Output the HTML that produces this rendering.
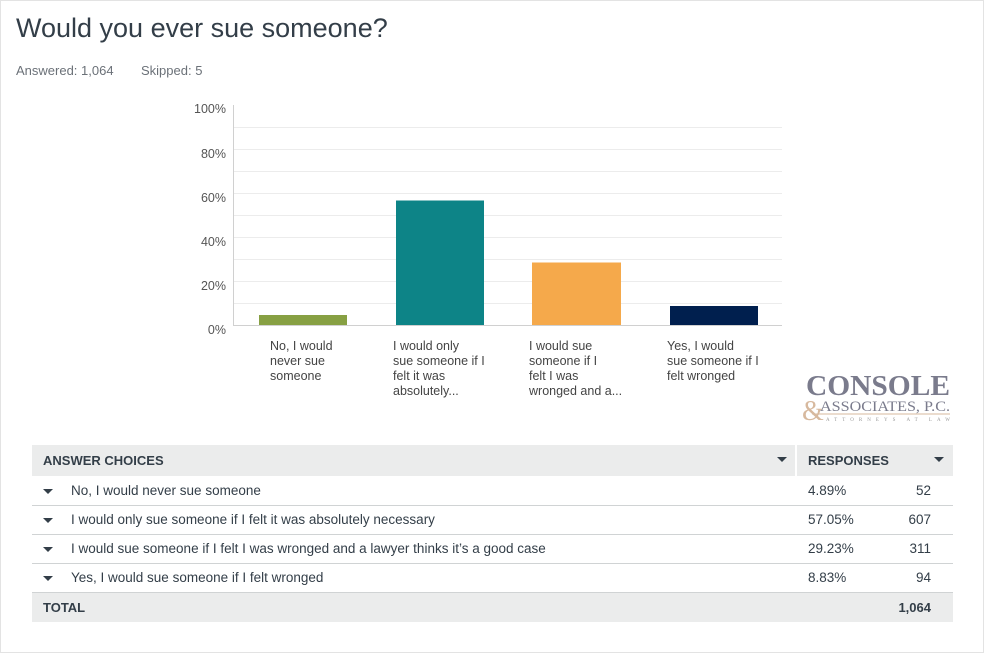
<!DOCTYPE html>
<html><head><meta charset="utf-8"><style>
body{margin:0;width:984px;height:653px;background:#fff;font-family:"Liberation Sans",sans-serif;position:relative;overflow:hidden;color:#333e48}
.frame{position:absolute;left:0;top:0;width:982px;height:651px;border:1px solid #e3e3e3}
.a{position:absolute;white-space:nowrap}
.t{left:16px;top:13px;font-size:27px;color:#333e48;font-weight:normal}
.s{top:63px;font-size:13px;color:#6b7178}
.yl{font-size:12.5px;color:#555;text-align:right;width:40px;left:186px}
.xl{font-size:12.5px;color:#444;line-height:15px;white-space:nowrap}
.row{position:absolute;left:32px;width:921px;height:29px;border-bottom:1px solid #d0d3d4;font-size:13.5px;color:#333e48}
.row span{position:absolute;top:7px}
.tri{position:absolute;left:11px;top:13px;width:0;height:0;border-left:5px solid transparent;border-right:5px solid transparent;border-top:5px solid #333e48}
</style></head><body>
<div class="frame"></div>
<div class="a t">Would you ever sue someone?</div>
<div class="a s" style="left:16px">Answered: 1,064</div>
<div class="a s" style="left:141px">Skipped: 5</div>
<svg class="a" style="left:0;top:0" width="984" height="440">
<g stroke="#ececec" stroke-width="1">
<line x1="234" x2="782" y1="127.5" y2="127.5"/><line x1="234" x2="782" y1="149.5" y2="149.5"/>
<line x1="234" x2="782" y1="171.5" y2="171.5"/><line x1="234" x2="782" y1="193.5" y2="193.5"/>
<line x1="234" x2="782" y1="215.5" y2="215.5"/><line x1="234" x2="782" y1="237.5" y2="237.5"/>
<line x1="234" x2="782" y1="259.5" y2="259.5"/><line x1="234" x2="782" y1="281.5" y2="281.5"/>
<line x1="234" x2="782" y1="303.5" y2="303.5"/>
</g>
<line x1="233.5" x2="233.5" y1="105" y2="326" stroke="#d0d0d0"/>
<line x1="233" x2="782" y1="325.5" y2="325.5" stroke="#d0d0d0"/>
<rect x="259" y="315" width="88" height="10" fill="#87a043"/>
<rect x="396" y="200.5" width="88" height="124.5" fill="#0d8487"/>
<rect x="532" y="262.5" width="89" height="62.5" fill="#f5a94b"/>
<rect x="670" y="306" width="88" height="19" fill="#001f4e"/>
<text x="806" y="395" font-family="Liberation Serif,serif" font-size="28" font-weight="bold" fill="#7a7b8c" textLength="144" lengthAdjust="spacingAndGlyphs">CONSOLE</text>
<text x="802" y="420" font-family="Liberation Serif,serif" font-size="28" fill="#d7b99e">&amp;</text>
<text x="820" y="411" font-family="Liberation Serif,serif" font-size="15" fill="#7a7b8c" textLength="130" lengthAdjust="spacingAndGlyphs">ASSOCIATES, P.C.</text>
<line x1="812" x2="950" y1="414" y2="414" stroke="#d7b99e"/>
<text x="826" y="421" font-family="Liberation Serif,serif" font-size="5" fill="#999" textLength="124" lengthAdjust="spacing">ATTORNEYS AT LAW</text>
</svg>
<div class="a yl" style="top:102px">100%</div>
<div class="a yl" style="top:147px">80%</div>
<div class="a yl" style="top:191px">60%</div>
<div class="a yl" style="top:235px">40%</div>
<div class="a yl" style="top:279px">20%</div>
<div class="a yl" style="top:323px">0%</div>
<div class="a xl" style="left:270px;top:339px">No, I would<br>never sue<br>someone</div>
<div class="a xl" style="left:393px;top:339px">I would only<br>sue someone if I<br>felt it was<br>absolutely...</div>
<div class="a xl" style="left:529px;top:339px">I would sue<br>someone if I<br>felt I was<br>wronged and a...</div>
<div class="a xl" style="left:667px;top:339px">Yes, I would<br>sue someone if I<br>felt wronged</div>

<div class="a" style="left:32px;top:445px;width:921px;height:31px;background:#ebecec"></div>
<div class="a" style="left:795px;top:445px;width:2px;height:31px;background:#fff"></div>
<div class="a" style="left:43px;top:453px;font-size:13px;font-weight:bold;color:#333e48">ANSWER CHOICES</div>
<div class="a" style="left:808px;top:453px;font-size:13px;font-weight:bold;color:#333e48">RESPONSES</div>
<div class="a" style="left:777px;top:457px;border-left:5px solid transparent;border-right:5px solid transparent;border-top:5px solid #333e48"></div>
<div class="a" style="left:934px;top:457px;border-left:5px solid transparent;border-right:5px solid transparent;border-top:5px solid #333e48"></div>

<div class="row" style="top:476px"><div class="tri"></div><span style="left:39px">No, I would never sue someone</span><span style="left:776px">4.89%</span><span style="right:22px">52</span></div>
<div class="row" style="top:505px"><div class="tri"></div><span style="left:39px">I would only sue someone if I felt it was absolutely necessary</span><span style="left:776px">57.05%</span><span style="right:22px">607</span></div>
<div class="row" style="top:534px"><div class="tri"></div><span style="left:39px">I would sue someone if I felt I was wronged and a lawyer thinks it’s a good case</span><span style="left:776px">29.23%</span><span style="right:22px">311</span></div>
<div class="row" style="top:563px"><div class="tri"></div><span style="left:39px">Yes, I would sue someone if I felt wronged</span><span style="left:776px">8.83%</span><span style="right:22px">94</span></div>
<div class="a" style="left:32px;top:593px;width:921px;height:29px;background:#ebecec"></div>
<div class="a" style="left:43px;top:600px;font-size:13px;font-weight:bold">TOTAL</div>
<div class="a" style="right:53px;top:600px;font-size:13px;font-weight:bold">1,064</div>
</body></html>
